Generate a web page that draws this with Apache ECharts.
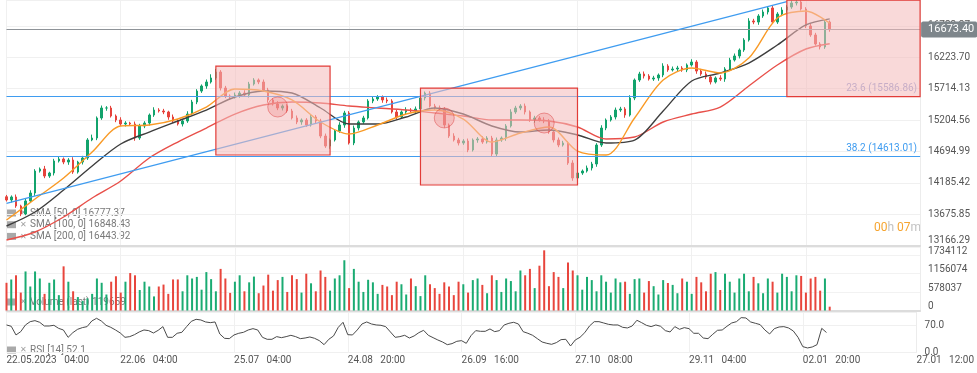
<!DOCTYPE html>
<html><head><meta charset="utf-8">
<script src="https://cdn.jsdelivr.net/npm/echarts@6.0.0/dist/echarts.min.js"></script>
<style>html,body{margin:0;padding:0;background:#fff}#c{width:977px;height:373px}</style>
</head><body><div id="c"></div>
<script>
// ---------- data ----------
const tickLabels = ['22.05.2023   04:00','22.06   04:00','25.07   04:00','24.08   20:00','26.09   16:00','27.10   08:00','29.11   04:00','02.01   20:00','27.01   12:00'];
const priceTickBase = 13166.2851;
const priceTickStep = 509.5695;
const firstOpen = 13960;
const closes = [
13908,13957,13811,13681,13892,14021,14378,14411,14297,14346,
14541,14573,14524,14557,14362,14524,14589,14882,14914,15239,
15401,15401,15271,15206,15141,15157,15141,14914,15109,15157,
15287,15368,15352,15336,15255,15190,15141,15190,15303,15498,
15676,15758,15823,15888,15985,15725,15596,15579,15612,15644,
15612,15790,15855,15823,15693,15531,15466,15401,15433,15352,
15239,15174,15206,15125,15255,15190,14946,14784,14882,15028,
15125,15320,14833,15076,15174,15239,15514,15547,15579,15531,
15514,15336,15255,15336,15368,15352,15385,15563,15644,15433,
15401,15385,15125,14946,14882,14833,14865,14719,14882,14898,
14849,14914,14654,14882,14914,15109,15336,15401,15433,15336,
15206,15239,15206,15190,15012,14882,14800,14833,14508,14265,
14346,14378,14427,14492,14800,15076,15206,15255,15368,15385,
15287,15563,15855,15953,15920,15871,15888,15936,16082,16018,
16034,16050,16018,16099,16147,16001,15953,15904,15823,15888,
15871,16034,16180,16245,16342,16504,16813,16796,16894,16959,
17024,16796,16926,16991,17040,17105,17121,17007,16732,16586,
16439,16391,16796,16673.40];
const wickUp = [
30,25,40,20,35,45,30,25,50,20,35,40,25,30,45,20,35,30,55,25,
40,30,35,25,45,30,20,40,35,30,25,45,30,35,20,40,30,25,45,35,
30,25,40,60,50,30,35,25,40,30,45,35,30,25,40,35,30,45,25,30,
35,40,25,30,45,30,35,40,25,30,45,35,30,40,25,35,30,45,30,25,
40,30,35,25,45,30,40,35,25,30,35,40,30,25,45,35,30,40,25,30,
45,30,35,40,25,30,45,35,30,40,25,35,30,45,30,25,40,35,30,45,
30,25,40,35,30,45,25,30,40,35,30,45,25,35,40,30,35,25,45,30,
40,35,30,25,45,30,35,40,30,25,45,30,35,40,25,30,45,35,30,40,
25,35,30,45,30,40,35,25,30,45,35,30,40,25];
const wickDn = [
25,40,30,35,20,30,45,25,35,30,40,25,35,45,30,25,40,30,20,35,
30,45,25,35,30,40,25,45,30,35,40,30,25,35,45,30,25,40,30,20,
35,30,45,25,30,40,35,30,25,45,30,40,25,35,30,45,25,35,40,30,
25,35,45,30,25,40,35,30,45,25,30,45,25,35,40,30,25,35,30,45,
35,25,40,30,35,25,45,30,40,25,30,35,45,30,25,40,30,35,25,45,
30,25,40,35,30,45,25,30,35,40,30,45,25,35,30,40,35,25,30,45,
35,30,25,40,45,30,35,25,40,30,45,25,35,30,40,25,30,45,35,30,
25,40,30,35,25,45,30,35,40,25,30,45,35,25,40,30,25,35,45,30,
40,25,30,35,45,30,40,25,35,30,25,40,30,35];
const volumes = [
866000,969000,1100000,560000,1220000,750000,1220000,1000000,520000,866000,
969000,480000,1380000,900000,600000,420000,300000,380000,520000,1000000,
866000,500000,900000,1070000,560000,900000,1170000,1100000,640000,900000,
750000,440000,750000,810000,520000,970000,970000,600000,1100000,1000000,
1050000,650000,1200000,980000,600000,1300000,1000000,550000,900000,1100000,
600000,880000,1060000,540000,780000,1120000,620000,950000,1050000,580000,
1100000,980000,560000,1150000,850000,600000,1250000,1050000,620000,1000000,
1100000,1570000,700000,1300000,900000,580000,960000,880000,520000,800000,
750000,480000,900000,820000,500000,1000000,760000,450000,1100000,820000,
700000,520000,880000,750000,480000,900000,820000,560000,950000,1000000,
800000,540000,1100000,950000,580000,1000000,920000,600000,1250000,1100000,
1300000,700000,1400000,1880000,760000,1200000,1050000,700000,1500000,1250000,
1100000,650000,1050000,950000,600000,1100000,900000,560000,1000000,880000,
900000,520000,980000,1000000,560000,920000,760000,500000,950000,860000,
800000,540000,1000000,900000,520000,1050000,880000,600000,1150000,1200000,
640000,1150000,900000,560000,1000000,1150000,600000,1050000,850000,540000,
1000000,900000,560000,1150000,1050000,600000,1100000,1080000,560000,1000000,
1050000,620000,1000000,119659];
const rsi = [
71.9,68.4,45.6,54.3,71.9,80.6,83.3,78.9,69.2,69.2,
71,63,58.7,39.4,51.7,60.5,64.9,67.5,82.4,89.4,
82.4,71,65.7,58.7,50.8,39.4,41.2,46.4,53.5,58.7,
57,50.8,57.8,67.5,39.4,39.4,50,52.6,67.5,81.5,
86.8,85,79.8,78,79.8,48.2,36.8,35.9,45.6,50,
52.6,58.7,62.2,58.7,39.4,34.2,34.2,41.2,38.5,41.2,
44.7,41.2,35.9,37.6,40.3,36.8,30.7,20.1,34.2,43,
65.7,78.9,46.4,45.6,58.7,74.5,79.8,74.5,71.9,71,
67.5,53.5,39.4,41.2,44.7,37.6,43,51.7,57.8,44.7,
38.5,32.4,27.1,20.1,22.8,28.9,30.7,23.6,43.8,57,
55.2,55.2,61.4,54.3,57,71.9,76.3,78.9,74.5,54.3,
50,44.7,35.9,27.1,23.6,21,25.4,33.3,34.2,16.6,
32.4,39.4,51.7,69.2,80.6,80.6,77.1,73.6,71.9,71.9,
65.7,64,69.2,84.2,78,71,67.5,71.9,68.4,57,
53.5,67.5,60.5,64.9,62.2,50,50,37.6,35.9,47.3,
57.8,58.7,68.4,77.1,80.6,91.2,90.3,79.8,76.3,72.8,
58.7,48.2,62.2,66.6,67.5,64,56.1,39.4,14.9,11.4,
14,20.1,63,52.1];
const smaIdx = [0,6,12,18,24,30,36,42,48,54,60,66,72,78,84,90,96,102,108,114,120,126,132,138,144,150,156,162,168,173];
const sma50 = [13583,13924,14265,14687,15109,15125,15222,15417,15709,15677,15531,15174,14979,15125,15303,15368,15222,14849,14995,15093,14703,14638,15239,15855,16050,15969,16212,16861,16975,16777];
const sma100 = [13486,13713,14070,14460,14817,15011,15190,15368,15579,15677,15644,15401,15141,15141,15255,15401,15303,15109,15011,15044,14963,14833,14881,15352,15839,15969,16131,16423,16748,16848];
const sma200 = [13259,13389,13632,13940,14216,14589,14849,15076,15303,15450,15498,15482,15433,15401,15368,15320,15271,15206,15206,15190,15093,14898,14930,15174,15303,15417,15758,16099,16358,16444];
const fibLevels = [15586.86, 14613.01];
const fibNames = ['23.6', '38.2'];
const lastPrice = 16673.40;
const trendIdx = [0, 164];
const trendPrice = [13854, 17126];
const boxX0 = [44, 87, 164];
const boxX1 = [68, 120, 192];
const boxTop = [16082, 15725, 17153];
const boxBottom = [14638, 14151, 15586.86];
const circleIdx = [57, 92, 113];
const circlePrice = [15417, 15239, 15157];
const legendSma = ['SMA [50, 0] 16777.37', 'SMA [100, 0] 16848.43', 'SMA [200, 0] 16443.92'];
const legendVol = 'Volume (last) 119659';
const legendRsi = 'RSI [14] 52.1';
const volStep = 578037.3333;

// ---------- build ----------
const N = 193;
const categories = Array.from({length: N}, (_, i) => String(i));
const off = p => p - priceTickBase;
const UP = '#12a36c', DOWN = '#e6433c';
const candleData = closes.map((c, i) => {
  const o = i ? closes[i - 1] : firstOpen;
  return [off(o), off(c), off(Math.min(o, c) - wickDn[i]), off(Math.max(o, c) + wickUp[i])];
});
const volData = volumes.map((v, i) => {
  const o = i ? closes[i - 1] : firstOpen;
  return {value: v, itemStyle: {color: closes[i] >= o ? '#1aab72' : '#e8453c'}};
});
const smaSeries = (arr) => smaIdx.map((x, k) => [x, off(arr[k])]);
const boxData = boxX0.map((x0, k) => [x0, off(boxTop[k]), boxX1[k], off(boxBottom[k])]);
const F = 'Roboto, sans-serif';
const lblColor = '#555';
const BOX_FILL = 'rgba(245,188,188,0.56)';

const xBase = (gi) => ({
  type: 'category', gridIndex: gi, data: categories, boundaryGap: false,
  axisLine: {show: gi < 2, lineStyle: {color: '#dcdcdc', width: 2}},
  axisTick: {show: false},
  splitLine: {show: true, interval: 23, lineStyle: {color: '#f0f0f0', width: 1}},
  axisLabel: gi === 2 ? {
    show: true, interval: 23, align: 'left', margin: 3, color: lblColor, fontSize: 10, fontFamily: F,
    formatter: (v, idx) => (idx % 24 === 0 ? tickLabels[idx / 24] : '')
  } : {show: false}
});

const option = {
  animation: false,
  backgroundColor: '#fff',
  grid: [
    {left: 6.5, right: 56.9, top: 0, height: 245.7},
    {left: 6.5, right: 56.9, top: 247, height: 63.5},
    {left: 6.5, right: 56.9, top: 312, height: 40.3}
  ],
  xAxis: [xBase(0), xBase(1), xBase(2)],
  yAxis: [
    {
      gridIndex: 0, position: 'right', min: 0, max: 3987.2, interval: priceTickStep,
      axisLine: {show: true, lineStyle: {color: '#ececec'}}, axisTick: {show: false},
      splitLine: {lineStyle: {color: '#f0f0f0'}},
      axisLabel: {
        margin: 8, color: lblColor, fontSize: 10, fontFamily: F, showMaxLabel: false,
        formatter: v => { const s = (v + priceTickBase).toFixed(2); return v === 0 ? '{lo|' + s + '}' : s; },
        rich: {lo: {padding: [0, 0, 11, 0], color: lblColor, fontSize: 10, fontFamily: F}}
      }
    },
    {
      gridIndex: 1, position: 'right', min: 0, max: 1984128, interval: volStep,
      axisLine: {show: true, lineStyle: {color: '#ececec'}}, axisTick: {show: false},
      splitLine: {lineStyle: {color: '#f2f2f2'}},
      axisLabel: {
        margin: 8, color: lblColor, fontSize: 10, fontFamily: F, showMaxLabel: false,
        formatter: v => '{a|' + Math.floor(v + 0.01) + '}',
        rich: {a: {padding: [0, 0, 8, 0], color: lblColor, fontSize: 10, fontFamily: F}}
      }
    },
    {
      gridIndex: 2, position: 'right', min: 0, max: 106, interval: 70,
      axisLine: {show: true, lineStyle: {color: '#ececec'}}, axisTick: {show: false},
      splitLine: {lineStyle: {color: '#f0f0f0'}},
      axisLabel: {margin: 8, color: lblColor, fontSize: 10, fontFamily: F, showMaxLabel: false,
        formatter: v => v.toFixed(1)}
    }
  ],
  series: [
    {
      type: 'candlestick', xAxisIndex: 0, yAxisIndex: 0, data: candleData, z: 2,
      barWidth: 2,
      itemStyle: {color: UP, color0: DOWN, borderColor: UP, borderColor0: DOWN, borderWidth: 1}
    },
    {type: 'line', name: 'sma200', data: smaSeries(sma200), smooth: 0.3, showSymbol: false, z: 3,
      lineStyle: {color: '#e8504a', width: 1.4}},
    {type: 'line', name: 'sma100', data: smaSeries(sma100), smooth: 0.3, showSymbol: false, z: 3,
      lineStyle: {color: '#3e3e3e', width: 1.4}},
    {type: 'line', name: 'sma50', data: smaSeries(sma50), smooth: 0.3, showSymbol: false, z: 3,
      lineStyle: {color: '#f99a26', width: 1.4}},
    {
      type: 'line', data: [], z: 4, clip: false, silent: true,
      markLine: {
        symbol: 'none', silent: true, animation: false,
        data: [
          {yAxis: off(lastPrice), lineStyle: {color: '#8e9398', width: 1, type: 'solid'},
            label: {show: true, position: 'end', distance: 1, formatter: lastPrice.toFixed(2),
              backgroundColor: '#7e868b', color: '#fff', fontSize: 11, fontFamily: F,
              padding: [3, 3, 2, 7], borderRadius: 2}},
          {yAxis: off(fibLevels[0]), lineStyle: {color: '#3f9cf0', width: 1.2, type: 'solid'},
            label: {show: true, position: 'insideEndTop', distance: 3,
              formatter: fibNames[0] + ' (' + fibLevels[0].toFixed(2) + ')',
              color: '#8d9cd6', fontSize: 10, fontFamily: F}},
          {yAxis: off(fibLevels[1]), lineStyle: {color: '#3f9cf0', width: 1.2, type: 'solid'},
            label: {show: true, position: 'insideEndTop', distance: 3,
              formatter: fibNames[1] + ' (' + fibLevels[1].toFixed(2) + ')',
              color: '#3f9cf0', fontSize: 10, fontFamily: F}},
          [{coord: [trendIdx[0], off(trendPrice[0])], lineStyle: {color: '#3f9cf0', width: 1.2, type: 'solid'}, label: {show: false}},
           {coord: [trendIdx[1], off(trendPrice[1])]}]
        ]
      }
    },
    {
      type: 'custom', xAxisIndex: 0, yAxisIndex: 0, z: 10, silent: true, data: boxData,
      encode: {x: [0, 2], y: [1, 3]},
      renderItem: (params, api) => {
        const p0 = api.coord([api.value(0), api.value(1)]);
        const p1 = api.coord([api.value(2), api.value(3)]);
        return {type: 'rect', shape: {x: p0[0], y: p0[1], width: p1[0] - p0[0], height: p1[1] - p0[1]},
          style: {fill: BOX_FILL, stroke: '#e23c38', lineWidth: 1.2}};
      }
    },
    {
      type: 'scatter', data: circleIdx.map((x, k) => [x, off(circlePrice[k])]), z: 11, silent: true,
      symbol: 'circle', symbolSize: 20,
      itemStyle: {color: 'rgba(236,110,110,0.3)', borderColor: 'rgba(220,60,60,0.6)', borderWidth: 1}
    },
    {
      type: 'bar', xAxisIndex: 1, yAxisIndex: 1, data: volData, barWidth: 2
    },
    {
      type: 'line', xAxisIndex: 2, yAxisIndex: 2, data: rsi, showSymbol: false,
      lineStyle: {color: '#4a4a4a', width: 1}
    }
  ],
  graphic: [
    ...legendSma.map((t, k) => ({type: 'group', left: 7, top: 208 + k * 11.7, children: [
      {type: 'rect', shape: {x: 0, y: 1, width: 9, height: 7}, style: {fill: '#a9a9a9'}},
      {type: 'text', x: 13, y: 4.5, style: {text: '✕', fill: '#a0a0a0', fontSize: 8, verticalAlign: 'middle'}},
      {type: 'text', x: 23, y: 4.5, style: {text: t, fill: '#7a7a7a', fontSize: 10, fontFamily: F, verticalAlign: 'middle'}}
    ]})),
    {type: 'group', left: 7, top: 297, children: [
      {type: 'rect', shape: {x: 0, y: 1, width: 9, height: 7}, style: {fill: '#a9a9a9'}},
      {type: 'text', x: 13, y: 4.5, style: {text: '✕', fill: '#a0a0a0', fontSize: 8, verticalAlign: 'middle'}},
      {type: 'text', x: 23, y: 4.5, style: {text: legendVol, fill: '#7a7a7a', fontSize: 10, fontFamily: F, verticalAlign: 'middle'}}
    ]},
    {type: 'group', left: 7, top: 345, children: [
      {type: 'rect', shape: {x: 0, y: 1, width: 9, height: 7}, style: {fill: '#a9a9a9'}},
      {type: 'text', x: 13, y: 4.5, style: {text: '✕', fill: '#a0a0a0', fontSize: 8, verticalAlign: 'middle'}},
      {type: 'text', x: 23, y: 4.5, style: {text: legendRsi, fill: '#7a7a7a', fontSize: 10, fontFamily: F, verticalAlign: 'middle'}}
    ]},
    {type: 'text', right: 56, top: 222, style: {
      text: '{o|00}{g|h} {o|07}{g|m}', fontFamily: F,
      rich: {o: {fill: '#f6a530', fontSize: 12, fontFamily: F}, g: {fill: '#c2c2c2', fontSize: 12, fontFamily: F}}
    }}
  ]
};
const chart = echarts.init(document.getElementById('c'), null, {renderer: 'canvas'});
chart.setOption(option);
</script>
</body></html>
